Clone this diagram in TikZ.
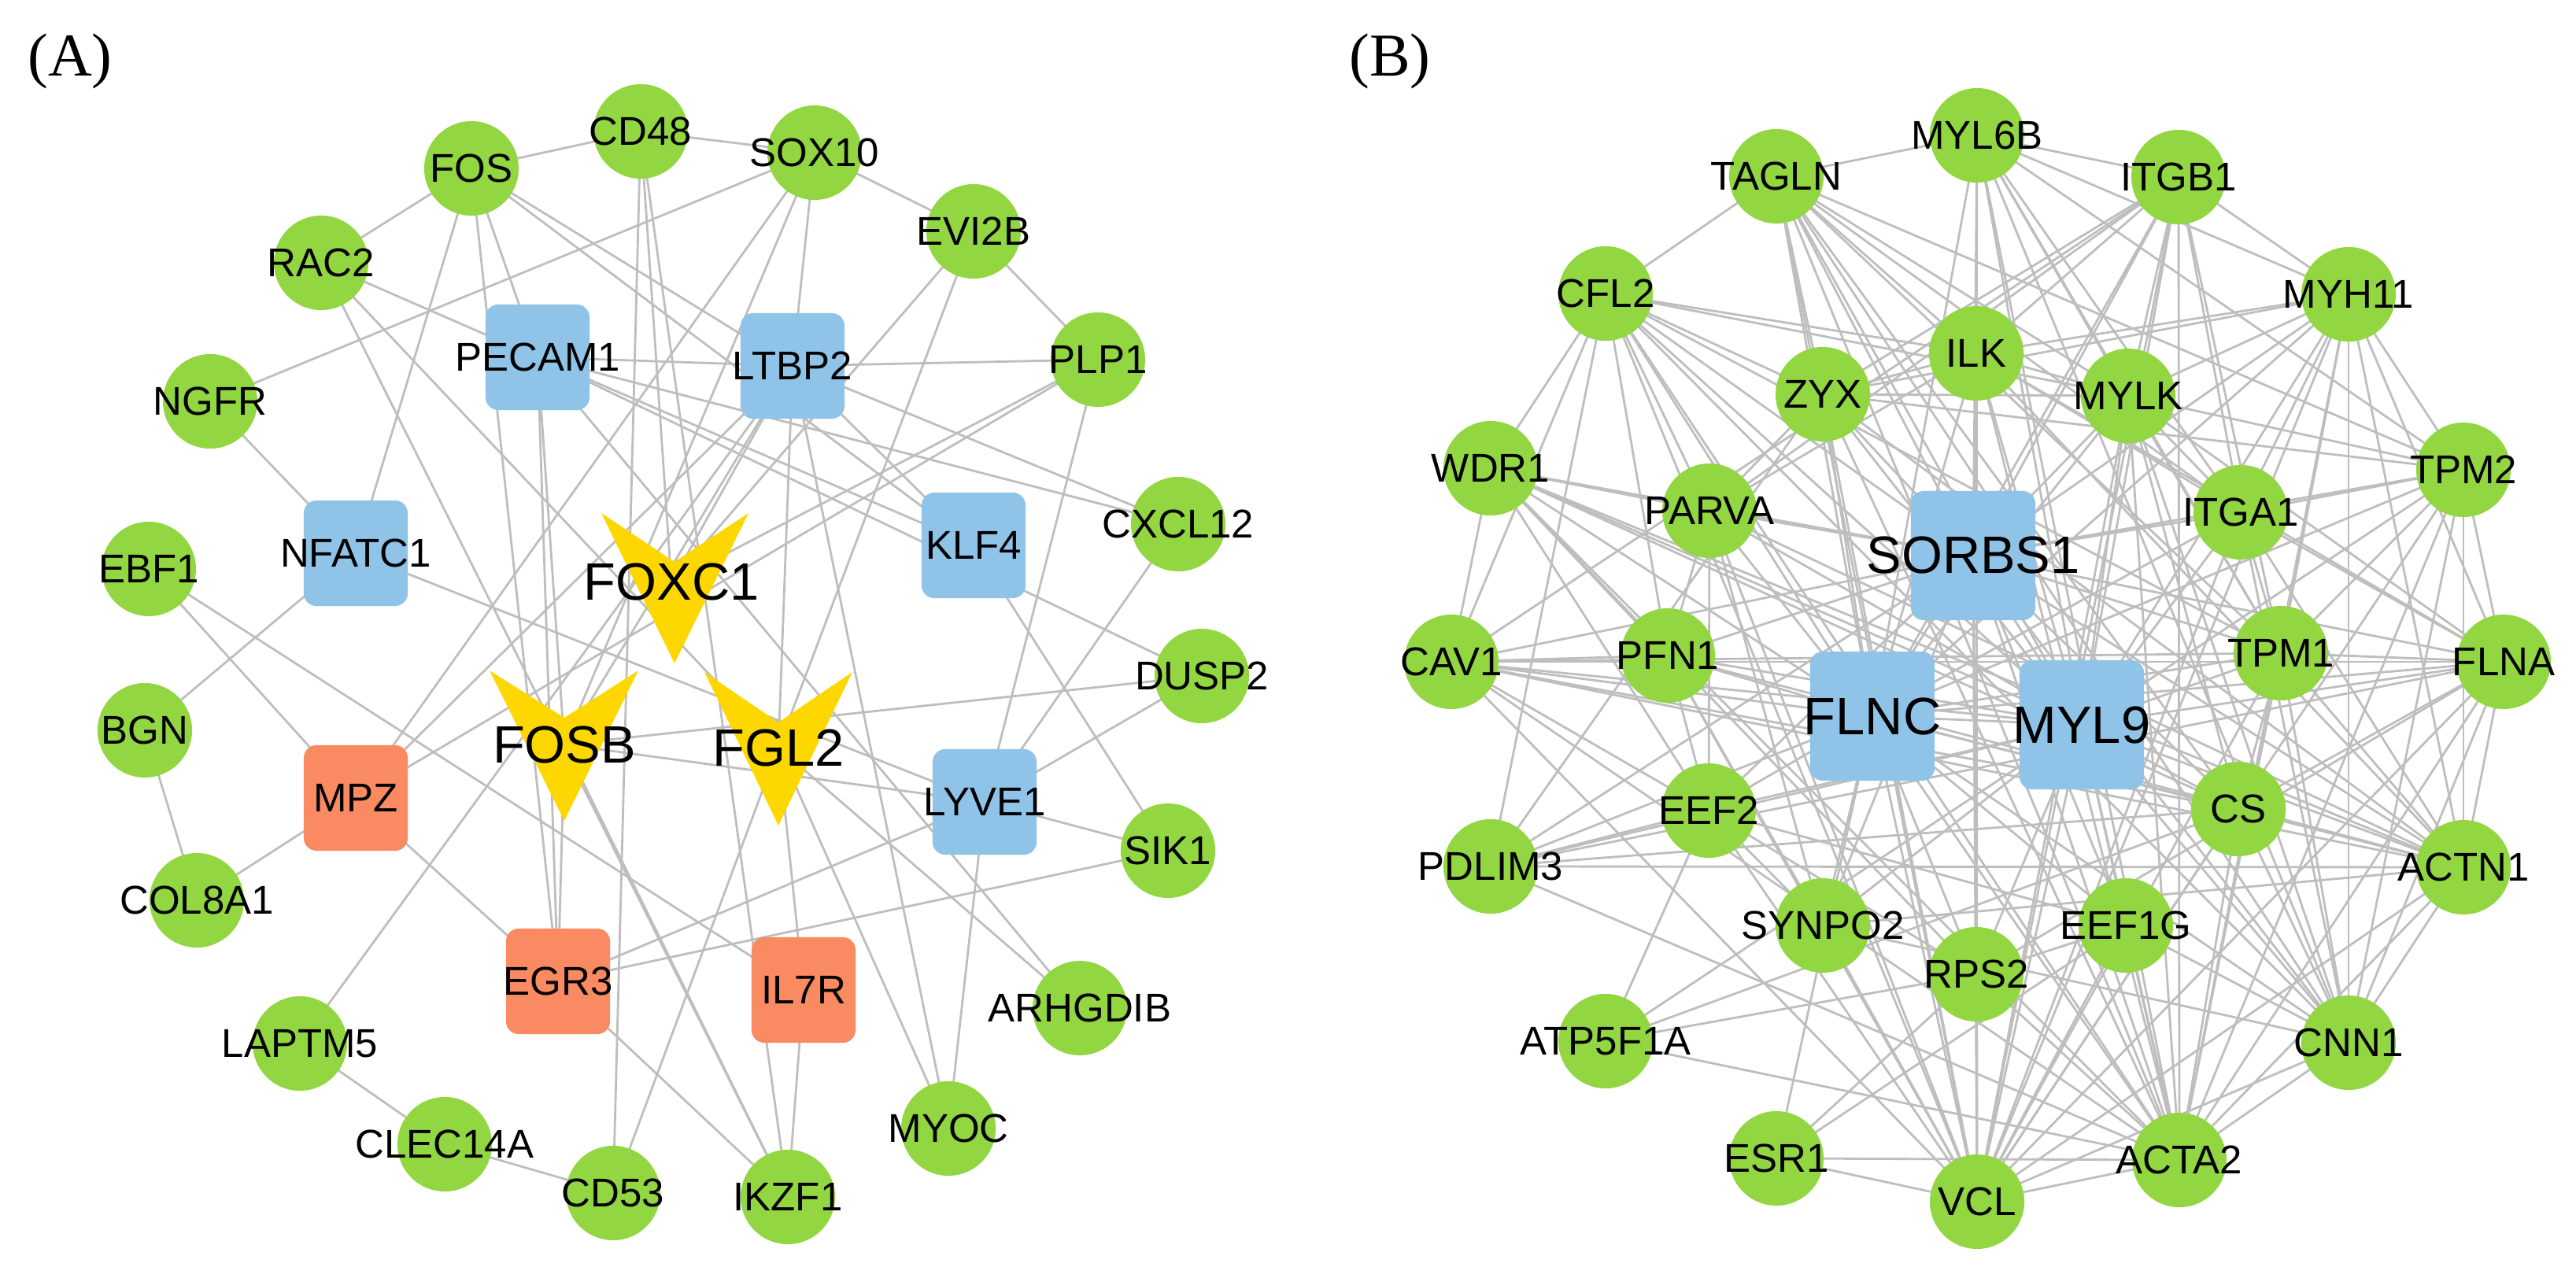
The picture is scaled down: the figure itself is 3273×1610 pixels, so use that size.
\documentclass[tikz,border=0pt]{standalone}
\usepackage{fontspec}
\setmainfont{Liberation Sans}
\newfontfamily\serifA{Liberation Serif}
\usetikzlibrary{backgrounds}
\definecolor{gn}{HTML}{92D642}
\definecolor{bl}{HTML}{8FC3E8}
\definecolor{og}{HTML}{FA8A62}
\definecolor{yl}{HTML}{FFD700}
\definecolor{ed}{HTML}{BEBEBE}
\newcommand\zb[1]{\makebox[0pt]{#1}}
\begin{document}
\begin{tikzpicture}[x=0.01cm,y=-0.01cm,
  g/.style={circle,fill=gn,minimum size=1.2cm,inner sep=0pt,font=\fontsize{14.5}{16}\selectfont},
  b/.style={rectangle,rounded corners=0.16cm,fill=bl,minimum width=1.32cm,minimum height=1.34cm,inner sep=0pt,font=\fontsize{14.5}{16}\selectfont},
  bb/.style={b,minimum width=1.58cm,minimum height=1.64cm,font=\fontsize{19}{21}\selectfont},
  o/.style={b,fill=og},
  vt/.style={inner sep=0pt,font=\fontsize{19}{21}\selectfont},
  vshape/.style={fill=yl},
  edge/.style={draw=ed,line width=0.8pt}]
\useasboundingbox (0,0) rectangle (3273,1610);
\node[font=\serifA\fontsize{22}{24}\selectfont] (LA) at (89,78) {(A)};
\node[font=\serifA\fontsize{22}{24}\selectfont] (LB) at (1766,78) {(B)};
% ---------- Panel A ----------
\fill[vshape] (764,652) -- (857,714) -- (951,652) -- (857,843) -- cycle;
\fill[vshape] (622,852) -- (717,912) -- (811,852) -- (717,1043) -- cycle;
\fill[vshape] (895,854) -- (989,918) -- (1083,854) -- (989,1049) -- cycle;
\node[vt] (FOXC1) at (853,740) {FOXC1};
\node[vt] (FOSB) at (717,946) {FOSB};
\node[vt] (FGL2) at (989,950) {FGL2};
\node[g] (FOS) at (599,214) {\zb{FOS}};
\node[g] (CD48) at (814,167) {\zb{CD48}};
\node[g] (SOX10) at (1035,194) {\zb{SOX10}};
\node[g] (EVI2B) at (1237,294) {\zb{EVI2B}};
\node[g] (RAC2) at (408,334) {\zb{RAC2}};
\node[g] (NGFR) at (267,510) {\zb{NGFR}};
\node[g] (EBF1) at (189,723) {\zb{EBF1}};
\node[g] (PLP1) at (1395,457) {\zb{PLP1}};
\node[g] (CXCL12) at (1497,666) {\zb{CXCL12}};
\node[g] (DUSP2) at (1527,859) {\zb{DUSP2}};
\node[g] (SIK1) at (1484,1081) {\zb{SIK1}};
\node[g] (ARHGDIB) at (1372,1281) {\zb{ARHGDIB}};
\node[g] (MYOC) at (1205,1434) {\zb{MYOC}};
\node[g] (IKZF1) at (1001,1521) {\zb{IKZF1}};
\node[g] (CD53) at (779,1516) {\zb{CD53}};
\node[g] (CLEC14A) at (565,1454) {\zb{CLEC14A}};
\node[g] (LAPTM5) at (381,1326) {\zb{LAPTM5}};
\node[g] (COL8A1) at (250,1144) {\zb{COL8A1}};
\node[g] (BGN) at (184,928) {\zb{BGN}};
\node[b] (PECAM1) at (683,454) {\zb{PECAM1}};
\node[b] (LTBP2) at (1007,465) {\zb{LTBP2}};
\node[b] (NFATC1) at (452,703) {\zb{NFATC1}};
\node[b] (KLF4) at (1237,693) {\zb{KLF4}};
\node[b] (LYVE1) at (1251,1019) {\zb{LYVE1}};
\node[o] (MPZ) at (452,1014) {\zb{MPZ}};
\node[o] (EGR3) at (709,1247) {\zb{EGR3}};
\node[o] (IL7R) at (1021,1258) {\zb{IL7R}};
% ---------- Panel B ----------
\node[g] (TAGLN) at (2257,224) {\zb{TAGLN}};
\node[g] (MYL6B) at (2512,172) {\zb{MYL6B}};
\node[g] (ITGB1) at (2768,225) {\zb{ITGB1}};
\node[g] (MYH11) at (2984,374) {\zb{MYH11}};
\node[g] (CFL2) at (2040,373) {\zb{CFL2}};
\node[g] (ZYX) at (2316,501) {\zb{ZYX}};
\node[g] (ILK) at (2511,449) {\zb{ILK}};
\node[g] (MYLK) at (2704,503) {\zb{MYLK}};
\node[g] (WDR1) at (1894,595) {\zb{WDR1}};
\node[g] (PARVA) at (2172,649) {\zb{PARVA}};
\node[g] (ITGA1) at (2847,651) {\zb{ITGA1}};
\node[g] (TPM2) at (3130,597) {\zb{TPM2}};
\node[g] (CAV1) at (1844,841) {\zb{CAV1}};
\node[g] (PFN1) at (2119,833) {\zb{PFN1}};
\node[g] (TPM1) at (2898,830) {\zb{TPM1}};
\node[g] (FLNA) at (3181,841) {\zb{FLNA}};
\node[g] (EEF2) at (2171,1030) {\zb{EEF2}};
\node[g] (PDLIM3) at (1894,1101) {\zb{PDLIM3}};
\node[g] (CS) at (2844,1028) {\zb{CS}};
\node[g] (ACTN1) at (3130,1102) {\zb{ACTN1}};
\node[g] (SYNPO2) at (2316,1176) {\zb{SYNPO2}};
\node[g] (RPS2) at (2511,1238) {\zb{RPS2}};
\node[g] (EEF1G) at (2701,1176) {\zb{EEF1G}};
\node[g] (ATP5F1A) at (2040,1323) {\zb{ATP5F1A}};
\node[g] (CNN1) at (2984,1325) {\zb{CNN1}};
\node[g] (ESR1) at (2257,1472) {\zb{ESR1}};
\node[g] (VCL) at (2512,1527) {\zb{VCL}};
\node[g] (ACTA2) at (2769,1474) {\zb{ACTA2}};
\node[bb] (SORBS1) at (2507,706) {\zb{SORBS1}};
\node[bb] (FLNC) at (2379,910) {\zb{FLNC}};
\node[bb] (MYL9) at (2645,921) {\zb{MYL9}};
\begin{pgfonlayer}{background}
\foreach \a/\b in {FOS/CD48,FOS/RAC2,FOS/PECAM1,FOS/NFATC1,FOS/LTBP2,FOS/KLF4,FOS/EGR3,RAC2/PECAM1,RAC2/FGL2,RAC2/IKZF1,NGFR/SOX10,NGFR/NFATC1,NFATC1/LYVE1,NFATC1/BGN,EBF1/MPZ,EBF1/IL7R,BGN/COL8A1,COL8A1/MPZ,MPZ/LTBP2,MPZ/PLP1,MPZ/SOX10,MPZ/EGR3,LAPTM5/LTBP2,LAPTM5/CLEC14A,CLEC14A/CD53,CD48/CD53,CD53/FGL2,EGR3/FOSB,EGR3/PECAM1,EGR3/LYVE1,EGR3/SIK1,EGR3/IKZF1,IL7R/IKZF1,IL7R/FGL2,FGL2/EVI2B,FOSB/LYVE1,FOSB/DUSP2,FGL2/ARHGDIB,FGL2/MYOC,LYVE1/MYOC,LYVE1/SIK1,LYVE1/DUSP2,LYVE1/PLP1,LYVE1/CXCL12,KLF4/SIK1,ARHGDIB/PECAM1,MYOC/LTBP2,CXCL12/LTBP2,CXCL12/PECAM1,PLP1/LTBP2,PLP1/EVI2B,PLP1/FOXC1,SOX10/CD48,SOX10/EVI2B,SOX10/LTBP2,SOX10/FOSB,EVI2B/FOXC1,CD48/FOXC1,LTBP2/KLF4,LTBP2/FOXC1,LTBP2/FOSB,LTBP2/FGL2,PECAM1/LTBP2,PECAM1/FOSB,PECAM1/KLF4,FOSB/IKZF1,PECAM1/DUSP2,CD48/IKZF1}
  \draw[edge] (\a.center) -- (\b.center);
\foreach \a in {TAGLN,MYL6B,ITGB1,MYH11,CFL2,ZYX,ILK,MYLK,WDR1,PARVA,ITGA1,TPM2,CAV1,PFN1,FLNC,MYL9,TPM1,FLNA,PDLIM3,EEF2,CS,ACTN1,SYNPO2,RPS2,EEF1G,CNN1,VCL,ACTA2}
  \draw[edge] (SORBS1.center) -- (\a.center);
\foreach \a in {TAGLN,MYL6B,ITGB1,MYH11,CFL2,ZYX,ILK,MYLK,WDR1,PARVA,ITGA1,TPM2,CAV1,PFN1,MYL9,TPM1,FLNA,PDLIM3,EEF2,CS,ACTN1,SYNPO2,RPS2,EEF1G,CNN1,VCL,ACTA2,ESR1}
  \draw[edge] (FLNC.center) -- (\a.center);
\foreach \a in {TAGLN,MYL6B,ITGB1,MYH11,CFL2,ZYX,ILK,MYLK,WDR1,PARVA,ITGA1,TPM2,CAV1,PFN1,TPM1,FLNA,PDLIM3,EEF2,CS,ACTN1,SYNPO2,RPS2,EEF1G,CNN1,VCL,ACTA2,ATP5F1A}
  \draw[edge] (MYL9.center) -- (\a.center);
\foreach \a in {TAGLN,MYL6B,ITGB1,ZYX,ILK,MYLK,PARVA,ITGA1,CAV1,PFN1,TPM1,FLNA,CS,ACTN1,SYNPO2,RPS2,EEF1G,CNN1,ACTA2,ESR1,EEF2,CFL2,MYH11,TPM2}
  \draw[edge] (VCL.center) -- (\a.center);
\foreach \a in {TAGLN,MYL6B,ITGB1,MYH11,CFL2,ZYX,ILK,MYLK,TPM2,CAV1,TPM1,FLNA,CS,ACTN1,CNN1,RPS2,EEF1G,ESR1,ATP5F1A,PDLIM3,WDR1}
  \draw[edge] (ACTA2.center) -- (\a.center);
\foreach \a/\b in {CFL2/TAGLN,CFL2/WDR1,CFL2/ZYX,CFL2/PARVA,CFL2/CAV1,CFL2/PFN1,CFL2/ILK,CFL2/MYLK,CFL2/PDLIM3,CFL2/TPM1,CFL2/CNN1,TAGLN/MYL6B,TAGLN/ZYX,TAGLN/ILK,TAGLN/MYLK,TAGLN/TPM2,TAGLN/ITGA1,TAGLN/TPM1,TAGLN/CNN1,TAGLN/CS,MYL6B/ITGB1,MYL6B/ILK,MYL6B/MYLK,MYL6B/MYH11,MYL6B/ITGA1,MYL6B/TPM1,MYL6B/CNN1,MYL6B/TPM2,ITGB1/MYH11,ITGB1/ILK,ITGB1/ZYX,ITGB1/PARVA,ITGB1/MYLK,ITGB1/ITGA1,ITGB1/TPM1,ITGB1/CAV1,MYH11/MYLK,MYH11/TPM2,MYH11/ITGA1,MYH11/TPM1,MYH11/FLNA,MYH11/ACTN1,MYH11/CNN1,MYH11/ILK,MYH11/ZYX,ZYX/ILK,ZYX/PARVA,ZYX/ACTN1,ZYX/TPM2,ZYX/MYLK,ILK/PARVA,ILK/MYLK,ILK/ITGA1,ILK/ACTN1,ILK/FLNA,MYLK/TPM2,MYLK/ITGA1,MYLK/TPM1,MYLK/FLNA,MYLK/CNN1,MYLK/CS,WDR1/PARVA,WDR1/CAV1,WDR1/PFN1,WDR1/ACTN1,WDR1/CS,WDR1/RPS2,WDR1/EEF2,PARVA/PFN1,PARVA/EEF2,PARVA/SYNPO2,PARVA/ACTN1,TPM2/TPM1,TPM2/FLNA,TPM2/ACTN1,TPM2/CNN1,TPM2/ITGA1,ITGA1/TPM1,ITGA1/FLNA,ITGA1/ACTN1,ITGA1/CNN1,CAV1/PFN1,CAV1/EEF2,CAV1/ACTN1,CAV1/TPM1,CAV1/FLNA,CAV1/CS,PFN1/EEF2,PFN1/SYNPO2,PFN1/ACTN1,TPM1/FLNA,TPM1/CS,TPM1/ACTN1,TPM1/CNN1,FLNA/ACTN1,FLNA/CNN1,FLNA/CS,FLNA/RPS2,PDLIM3/EEF2,PDLIM3/ACTN1,PDLIM3/CS,PDLIM3/FLNA,PDLIM3/ZYX,EEF2/SYNPO2,EEF2/ATP5F1A,EEF2/EEF1G,EEF2/RPS2,CS/ACTN1,CS/CNN1,CS/ATP5F1A,ACTN1/CNN1,ACTN1/SYNPO2,SYNPO2/CNN1,RPS2/EEF1G,RPS2/ATP5F1A,EEF1G/CNN1,ESR1/RPS2,ESR1/EEF1G}
  \draw[edge] (\a.center) -- (\b.center);
\end{pgfonlayer}
\end{tikzpicture}
\end{document}
